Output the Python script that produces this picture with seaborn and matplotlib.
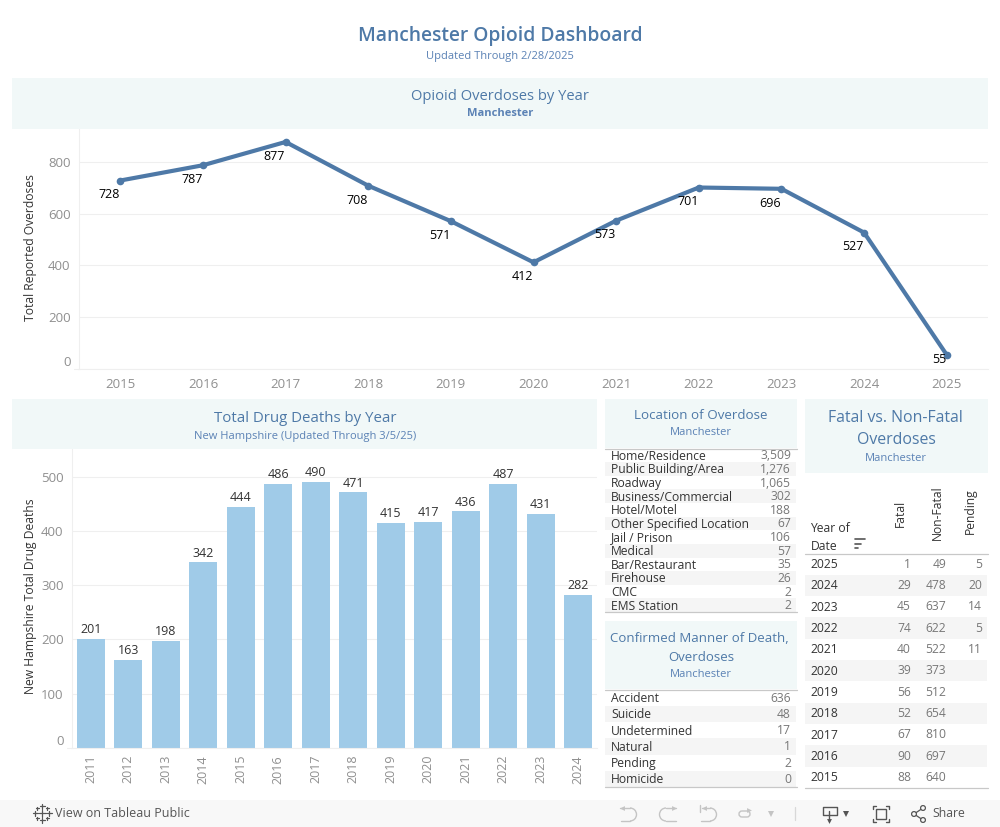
import matplotlib

matplotlib.use("Agg")

import matplotlib.pyplot as plt
from matplotlib.patches import Arc, Rectangle, Circle, FancyBboxPatch
import seaborn as sns

W, H = 1000, 827

overdose_years = [2015, 2016, 2017, 2018, 2019, 2020, 2021, 2022, 2023, 2024, 2025]
overdose_totals = [728, 787, 877, 708, 571, 412, 573, 701, 696, 527, 55]

death_years = list(range(2011, 2025))
death_totals = [201, 163, 198, 342, 444, 486, 490, 471, 415, 417, 436, 487, 431, 282]

location_names = ["Home/Residence", "Public Building/Area", "Roadway", "Business/Commercial",
                  "Hotel/Motel", "Other Specified Location", "Jail / Prison", "Medical",
                  "Bar/Restaurant", "Firehouse", "CMC", "EMS Station"]
location_counts = ["3,509", "1,276", "1,065", "302", "188", "67", "106", "57", "35", "26", "2", "2"]

manner_names = ["Accident", "Suicide", "Undetermined", "Natural", "Pending", "Homicide"]
manner_counts = ["636", "48", "17", "1", "2", "0"]

table_years = [2025, 2024, 2023, 2022, 2021, 2020, 2019, 2018, 2017, 2016, 2015]
table_fatal = ["1", "29", "45", "74", "40", "39", "56", "52", "67", "90", "88"]
table_nonfatal = ["49", "478", "637", "622", "522", "373", "512", "654", "810", "697", "640"]
table_pending = ["5", "20", "14", "5", "11", "", "", "", "", "", ""]

BLUE = "#4e79a7"
SUB = "#5b82b5"
BAR = "#a0cbe8"
PANEL = "#f1f8f8"
GRID = "#efefef"
TICK = "#8f8f8f"
DARK = "#333333"
BAND = "#f5f5f5"
RULE = "#c8c8c8"
ICON = "#555555"
ICON_OFF = "#c4c4c4"

sns.set_theme(style="white")
plt.rcParams["font.family"] = ["Open Sans", "DejaVu Sans"]

fig = plt.figure(figsize=(W / 100, H / 100), dpi=100, facecolor="white")


def px_axes(left, top, right, bottom, **kw):
    return fig.add_axes([left / W, 1 - bottom / H, (right - left) / W, (bottom - top) / H], **kw)


def style_chart(ax, xpad):
    ax.grid(axis="y", color=GRID, linewidth=0.8)
    ax.set_axisbelow(True)
    for side in ["top", "right"]:
        ax.spines[side].set_visible(False)
    for side in ["left", "bottom"]:
        ax.spines[side].set_color(GRID)
        ax.spines[side].set_linewidth(0.8)
    ax.tick_params(axis="x", length=4, color=GRID, labelcolor=TICK, labelsize=9.5, pad=xpad)
    ax.tick_params(axis="y", length=0, labelcolor=TICK, labelsize=9.5, pad=6)
    # Tableau lifts the zero label off the axis line
    ax.get_yticklabels()[0].set_va("bottom")


# line chart
ax1 = px_axes(79, 129, 988, 369)
sns.lineplot(x=list(range(len(overdose_years))), y=overdose_totals, ax=ax1, color=BLUE,
             linewidth=3, marker="o", markersize=5.5, markeredgewidth=0)
ax1.set_xlim(-0.5, len(overdose_years) - 0.5)
ax1.set_ylim(0, 927)
ax1.set_xticks(range(len(overdose_years)), overdose_years)
ax1.set_yticks([0, 200, 400, 600, 800])
ax1.set_xlabel("")
ax1.set_ylabel("Total Reported Overdoses", fontsize=8.7, color=DARK)
ax1.yaxis.set_label_coords((37 - 79) / 909, (369 - 247.5) / 240)
style_chart(ax1, 2.5)
for i, v in enumerate(overdose_totals):
    # last label would fall under the axis, so it sits next to the point
    offset = (-5, -3.6) if v < 100 else (-8, -10.3)
    ax1.annotate(str(v), (i, v), xytext=offset, textcoords="offset points", ha="center",
                 va="center", fontsize=9, color="black")

# bar chart
ax2 = px_axes(72, 449, 597, 748)
sns.barplot(x=[str(y) for y in death_years], y=death_totals, ax=ax2, color=BAR, saturation=1,
            width=0.75, linewidth=0)
ax2.set_xlim(-0.5, len(death_years) - 0.5)
ax2.set_ylim(0, 551)
ax2.set_yticks([0, 100, 200, 300, 400, 500])
ax2.set_xlabel("")
ax2.set_ylabel("New Hampshire Total Drug Deaths", fontsize=8.7, color=DARK)
ax2.yaxis.set_label_coords((37 - 72) / 525, (748 - 596) / 299)
style_chart(ax2, 1)
ax2.tick_params(axis="x", labelrotation=90, labelsize=9)
ax2.bar_label(ax2.containers[0], fontsize=9, color=DARK, padding=2)

# everything else sits on a pixel-sized overlay
ov = px_axes(0, 0, W, H, zorder=5)
ov.set_xlim(0, W)
ov.set_ylim(H, 0)
ov.axis("off")
ov.patch.set_alpha(0)


def panel(x0, y0, x1, y1):
    ov.add_patch(Rectangle((x0, y0), x1 - x0, y1 - y0, facecolor=PANEL, edgecolor="none"))


def ctext(x, y, s, size, color=BLUE, **kw):
    ov.text(x, y + 1.5, s, ha="center", va="center", fontsize=size, color=color, **kw)


ctext(500, 34, "Manchester Opioid Dashboard", 13.9, fontweight="semibold")
ctext(500, 55, "Updated Through 2/28/2025", 8, color=SUB)

panel(12, 78, 988, 129)
ctext(500, 95, "Opioid Overdoses by Year", 10.6)
ctext(500, 112, "Manchester", 8, color=SUB, fontweight="bold")

panel(12, 399, 597, 449)
ctext(305, 417, "Total Drug Deaths by Year", 10.8)
ctext(305, 435, "New Hampshire (Updated Through 3/5/25)", 8, color=SUB)

panel(605, 399, 797, 448)
ctext(701, 414, "Location of Overdose", 9.6)
ctext(701, 431, "Manchester", 8, color=SUB)

panel(605, 621, 797, 689)
ctext(699, 637, "Confirmed Manner of Death,", 9.5)
ctext(701, 656, "Overdoses", 9.5)
ctext(701, 673, "Manchester", 8, color=SUB)

panel(805, 399, 988, 473)
ctext(895, 416, "Fatal vs. Non-Fatal", 11.4)
ctext(896, 438, "Overdoses", 11.4)
ctext(896, 457, "Manchester", 8, color=SUB)


def two_col(names, counts, top, bottom):
    step = (bottom - top) / len(names)
    for i, (name, count) in enumerate(zip(names, counts)):
        y = top + step * i
        if i % 2:
            ov.add_patch(Rectangle((605, y), 191, step, facecolor=BAND, edgecolor="none"))
        ov.text(611, y + step / 2 + 1, name, ha="left", va="center", fontsize=8.7, color=DARK)
        ov.text(791, y + step / 2 + 0.5, count, ha="right", va="center", fontsize=8.7, color="#777777")
    ov.plot([605, 797], [top, top], color=RULE, lw=0.9)
    ov.plot([605, 797], [bottom, bottom], color=RULE, lw=0.9)


two_col(location_names, location_counts, 448.5, 612)
two_col(manner_names, manner_counts, 689.5, 787)

# fatal table
t_top, t_bottom = 553.5, 788
t_step = (t_bottom - t_top) / len(table_years)
for i, yr in enumerate(table_years):
    y = t_top + t_step * i
    if i % 2:
        ov.add_patch(Rectangle((805, y), 182, t_step, facecolor=BAND, edgecolor="none"))
    yc = y + t_step / 2
    ov.text(810.5, yc + 0.5, str(yr), ha="left", va="center", fontsize=8.7, color=DARK)
    ov.text(911, yc, table_fatal[i], ha="right", va="center", fontsize=8.7, color="#777777")
    ov.text(946, yc, table_nonfatal[i], ha="right", va="center", fontsize=8.7, color="#777777")
    ov.text(982, yc, table_pending[i], ha="right", va="center", fontsize=8.7, color="#777777")
ov.plot([805, 988], [t_top, t_top], color=RULE, lw=0.9)
ov.plot([805, 988], [t_bottom, t_bottom], color=RULE, lw=0.9)
ov.text(810.5, 528, "Year of", ha="left", va="center", fontsize=8.7, color=DARK)
ov.text(810.5, 546, "Date", ha="left", va="center", fontsize=8.7, color=DARK)
for x, bot, label in [(900, 527, "Fatal"), (937, 540, "Non-Fatal"), (970, 534, "Pending")]:
    ov.text(x, bot, label, rotation=90, ha="center", va="bottom", fontsize=8.7, color=DARK)
for y, x1 in [(539, 865), (543.5, 861), (548, 858)]:
    ov.plot([855, x1], [y, y], color=ICON, lw=1.2)

# toolbar
ov.add_patch(Rectangle((0, 800), W, 27, facecolor="#f8f8f8", edgecolor="none"))
ov.text(55, 813.5, "View on Tableau Public", ha="left", va="center", fontsize=9,
        color=ICON, fontweight="medium")
ov.text(932, 813.5, "Share", ha="left", va="center", fontsize=8.8, color=ICON, fontweight="medium")
for x, y, s in [(42, 813, 3.5), (42, 806, 2.5), (42, 820, 2.5), (35, 813, 2.5), (49, 813, 2.5),
                (37, 808, 1.5), (47, 808, 1.5), (37, 818, 1.5), (47, 818, 1.5)]:
    ov.plot([x - s, x + s], [y, y], color=ICON, lw=0.9)
    ov.plot([x, x], [y - s, y + s], color=ICON, lw=0.9)


def hook(tip, straight, tail):
    # undo / redo glyph: arrow line, half circle, return line
    right = straight > tip
    ov.plot([tip, straight], [808, 808], color=ICON_OFF, lw=1)
    ov.plot([tail, straight], [821, 821], color=ICON_OFF, lw=1)
    ov.add_patch(Arc((straight, 814.5), 13, 13, theta1=-90 if right else 90, theta2=90 if right else 270,
                     color=ICON_OFF, lw=1))
    ov.plot([tip + (2 if right else -2)], [808], marker="<" if right else ">", ms=3.5,
            color=ICON_OFF, markeredgewidth=0)


hook(620, 630, 621)
hook(676, 666, 676)
hook(702, 710, 701)
ov.plot([700, 700], [805, 812], color=ICON_OFF, lw=1)
ov.add_patch(FancyBboxPatch((739, 811), 11, 6, boxstyle="round,pad=0,rounding_size=3",
                            fill=False, edgecolor=ICON_OFF, lw=1, mutation_aspect=1))
ov.plot([749], [810], marker=">", ms=3.5, color=ICON_OFF, markeredgewidth=0)
ov.plot([770.5], [814], marker="v", ms=4.5, color=ICON_OFF, markeredgewidth=0)
ov.plot([795, 795], [807, 820], color="#d8d8d8", lw=0.9)

ov.plot([829, 822.5, 822.5, 836.5, 836.5, 829], [815, 815, 807, 807, 815, 815], color=ICON, lw=1)
ov.plot([829, 829], [811, 821], color=ICON, lw=1)
ov.plot([829], [821], marker="v", ms=3.5, color=ICON, markeredgewidth=0)
ov.plot([846], [814], marker="v", ms=5, color=ICON, markeredgewidth=0)

for sx, sy in [(873, 806), (889, 806), (873, 822), (889, 822)]:
    dx = 3 if sx == 873 else -3
    dy = 3 if sy == 806 else -3
    ov.plot([sx + dx, sx, sx], [sy, sy, sy + dy], color=ICON, lw=1)
ov.add_patch(Rectangle((876, 809), 10, 10, facecolor="none", edgecolor=ICON, lw=1))

ov.plot([914, 923], [814, 808], color=ICON, lw=0.9)
ov.plot([914, 923], [814, 820], color=ICON, lw=0.9)
for cx, cy in [(914, 814), (923, 808), (923, 820)]:
    ov.add_patch(Circle((cx, cy), 2.4, facecolor="#f8f8f8", edgecolor=ICON, lw=0.9, zorder=3))

# small stub left of the zero line on both charts
ov.plot([74, 79], [369, 369], color=GRID, lw=0.8)
ov.plot([67, 72], [748, 748], color=GRID, lw=0.8)

fig.savefig("out.png", dpi=100, facecolor="white")
